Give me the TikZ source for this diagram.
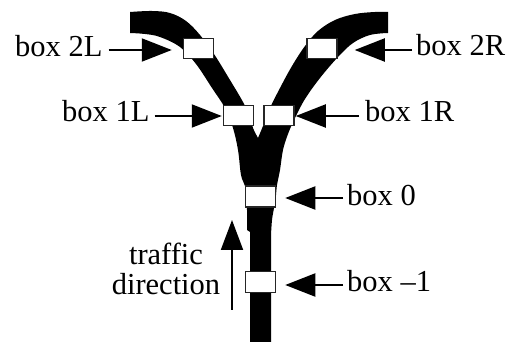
\documentclass[tikz,border=0pt]{standalone}
\usepackage{fontspec}
\setmainfont{Liberation Serif}
\usetikzlibrary{arrows.meta,calc}
\begin{document}
\begin{tikzpicture}[x=1pt,y=-1pt,
  lbl/.style={inner sep=0pt,anchor=base west,font=\fontsize{30.5}{31}\selectfont},
  sbox/.style={draw=black!85,fill=white,line width=1.5pt,minimum width=30pt,minimum height=20pt,inner sep=0pt},
  lead/.style={line width=2pt,-{Triangle[length=30pt,width=23pt]}},
  road/.style={fill=black}]
\useasboundingbox (0,0) rectangle (515,342);
% road
\fill[road] plot[smooth,tension=0.6] coordinates{(130,12) (152,11) (170,13) (186,21) (200,35) (214,54) (230,80) (243,102) (250,117) (253,128) (258,138)}
  -- plot[smooth,tension=0.6] coordinates{(258,138) (263,126) (270,108) (280,88) (292,66) (305,46) (318,31) (335,20) (355,14) (375,12) (388,12)}
  -- (388,33)
  -- plot[smooth,tension=0.6] coordinates{(388,33) (370,35) (353,43) (338,57) (320,78) (305,99) (295,118) (288,134) (283,150) (280,170) (277,185) (276,195) (274,208) (272,220) (271,235)}
  -- (271,342) -- (250,342) -- (250,232) -- (247,230)
  -- plot[smooth,tension=0.6] coordinates{(247,230) (247,210) (246,196) (245,186) (241,175) (238,150) (233,128) (225,108) (212,88) (196,64) (180,47) (160,37) (145,34) (130,33)}
  -- cycle;
% boxes
\node[sbox] (b2L) at (198.5,48.5) {};
\node[sbox] (b2R) at (322,48.5) {};
\node[sbox] (b1L) at (238.5,115.5) {};
\node[sbox] (b1R) at (279,115.5) {};
\node[sbox,minimum height=21pt] (b0) at (260.5,196.5) {};
\node[sbox,minimum height=21pt] (bm1) at (260.5,282) {};
% labels
\node[lbl] (t2L) at (15,57) {box 2L};
\node[lbl] (t1L) at (62,122) {box 1L};
\node[lbl] (t2R) at (416,56) {box 2R};
\node[lbl] (t1R) at (365,122) {box 1R};
\node[lbl] (t0) at (347,206) {box 0};
\node[lbl] (tm1) at (347,292) {box \textendash1};
\node[inner sep=0pt,anchor=base,align=center,font=\fontsize{30.5}{31}\selectfont] (tdir) at (166,295) {traffic\\direction};
% leaders
\coordinate (a2L) at ($(t2L.base east)+(6,-7)$);
\draw[lead,shorten >=11pt] (a2L) -- (a2L -| b2L.west);
\coordinate (a1L) at ($(t1L.base east)+(5,-6)$);
\draw[lead,shorten >=1pt] (a1L) -- (a1L -| b1L.west);
\coordinate (a2R) at ($(t2R.base west)+(-4,-6)$);
\draw[lead,shorten >=17pt] (a2R) -- (a2R -| b2R.east);
\coordinate (a1R) at ($(t1R.base west)+(-6,-6)$);
\draw[lead,shorten >=1pt] (a1R) -- (a1R -| b1R.east);
\coordinate (a0) at ($(t0.base west)+(-4,-8)$);
\draw[lead,shorten >=9pt] (a0) -- (a0 -| b0.east);
\coordinate (am1) at ($(tm1.base west)+(-4,-7)$);
\draw[lead,shorten >=9pt] (am1) -- (am1 -| bm1.east);
% traffic direction arrow
\coordinate (tr0) at (232,310);
\coordinate (tr1) at (232,220);
\draw[line width=2pt,-{Triangle[length=30pt,width=22pt]}] (tr0) -- (tr1);
\end{tikzpicture}
\end{document}
